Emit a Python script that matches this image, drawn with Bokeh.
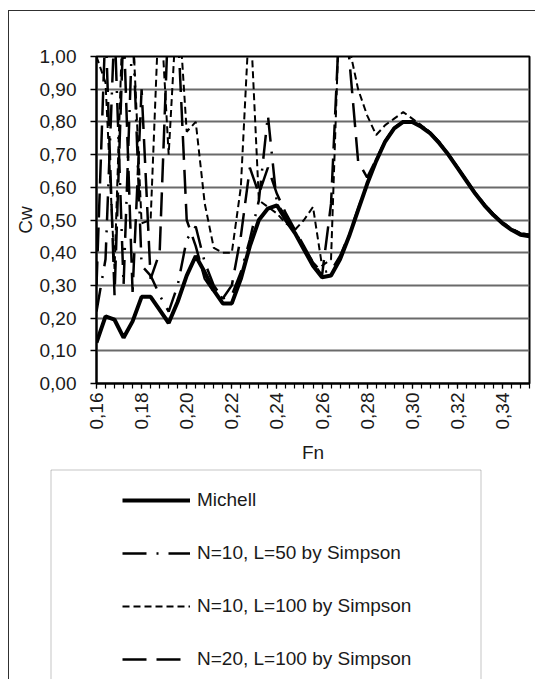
import math
from bokeh.plotting import figure
from bokeh.models import (Range1d, FixedTicker, CustomJSTickFormatter, Legend,
                          LegendItem, BoxAnnotation)
from bokeh.embed import file_html
from bokeh.resources import INLINE

# ---------------- data ----------------
fn = [0.160, 0.164, 0.168, 0.172, 0.176, 0.180, 0.184, 0.188, 0.192, 0.196,
      0.200, 0.204, 0.208, 0.212, 0.216, 0.220, 0.224, 0.228, 0.232, 0.236,
      0.240, 0.244, 0.248, 0.252, 0.256, 0.260, 0.264, 0.268, 0.272, 0.276,
      0.280, 0.284, 0.288, 0.292, 0.296, 0.300, 0.304, 0.308, 0.312, 0.316,
      0.320, 0.324, 0.328, 0.332, 0.336, 0.340, 0.344, 0.348, 0.352]

michell = [0.125, 0.205, 0.195, 0.140, 0.190, 0.265, 0.265, 0.225, 0.185, 0.250,
           0.330, 0.390, 0.340, 0.285, 0.245, 0.245, 0.320, 0.420, 0.500, 0.535,
           0.545, 0.500, 0.460, 0.410, 0.360, 0.325, 0.330, 0.380, 0.450, 0.530,
           0.610, 0.680, 0.740, 0.780, 0.800, 0.800, 0.785, 0.765, 0.735, 0.700,
           0.660, 0.620, 0.580, 0.545, 0.515, 0.490, 0.470, 0.455, 0.450]

n10_l50 = [0.220, 0.380, 1.100, 0.300, 1.100, 0.360, 0.330, 0.270, 0.220, 0.300,
           0.440, 0.480, 0.370, 0.300, 0.260, 0.270, 0.340, 0.440, 0.560, 0.820,
           0.550, 0.510, 0.465, 0.415, 0.370, 0.340, 0.345, 0.390, 0.455, 0.535,
           0.612, 0.682, 0.742, 0.782, 0.802, 0.802, 0.788, 0.767, 0.738, 0.702,
           0.662, 0.622, 0.582, 0.548, 0.518, 0.493, 0.473, 0.459, 0.455]

n10_l100 = [1.000, 0.920, 0.350, 1.200, 1.100, 0.490, 0.500, 1.200, 0.700, 1.200,
            0.770, 0.800, 0.550, 0.415, 0.400, 0.400, 0.600, 1.150, 0.560, 0.540,
            0.520, 0.490, 0.470, 0.500, 0.540, 0.360, 0.380, 1.200, 1.030, 0.900,
            0.820, 0.760, 0.790, 0.810, 0.830, 0.810, 0.790, 0.768, 0.738, 0.703,
            0.663, 0.623, 0.584, 0.549, 0.519, 0.494, 0.474, 0.460, 0.456]

n20_l100 = [0.300, 1.100, 0.270, 1.100, 0.280, 0.900, 0.320, 0.400, 1.150, 1.100,
            0.500, 0.420, 0.320, 0.280, 0.260, 0.300, 0.450, 0.660, 0.580, 0.660,
            0.580, 0.520, 0.470, 0.420, 0.370, 0.330, 0.550, 1.150, 1.000, 0.680,
            0.630, 0.685, 0.742, 0.781, 0.801, 0.801, 0.787, 0.766, 0.737, 0.701,
            0.661, 0.621, 0.581, 0.547, 0.517, 0.492, 0.472, 0.457, 0.453]

x_label_ticks = [0.16, 0.18, 0.20, 0.22, 0.24, 0.26, 0.28, 0.30, 0.32, 0.34]
y_ticks = [0.0, 0.1, 0.2, 0.3, 0.4, 0.5, 0.6, 0.7, 0.8, 0.9, 1.0]

labels = ["Michell", "N=10, L=50 by Simpson", "N=10, L=100 by Simpson",
          "N=20, L=100 by Simpson"]

# ---------------- styles ----------------
FONT = "Liberation Sans"
TXT = "#1a1a1a"
FS = "19px"
FRAME = "1px solid #303030"

styles_series = [
    dict(line_color="black", line_width=4),
    dict(line_color="black", line_width=2.5, line_dash="24 10 2 10"),
    dict(line_color="black", line_width=2, line_dash="7 4"),
    dict(line_color="black", line_width=2.5, line_dash="24 10"),
]
series = [michell, n10_l50, n10_l100, n20_l100]

# ---------------- chart figure ----------------
p = figure(width=527, height=457, output_backend="svg", toolbar_location=None,
           x_range=Range1d(0.16, 0.352), y_range=Range1d(0, 1),
           min_border_left=87, min_border_right=7, min_border_top=45,
           min_border_bottom=85,
           styles={"margin-left": "8px", "margin-top": "10px",
                   "border-left": FRAME, "border-top": FRAME})
p.background_fill_color = "white"
p.border_fill_color = "white"
p.outline_line_color = "black"
p.outline_line_width = 2

fmt = CustomJSTickFormatter(code="return tick.toFixed(2).replace('.', ',');")

yt = FixedTicker(ticks=y_ticks)
p.yaxis.ticker = yt
p.yaxis.formatter = fmt
p.yaxis.major_tick_in = 0
p.yaxis.major_tick_out = 6
p.yaxis.minor_tick_out = 0
p.yaxis.minor_tick_in = 0
p.yaxis.axis_line_width = 2
p.yaxis.major_tick_line_width = 1.5
p.yaxis.major_label_standoff = 14
p.yaxis.major_label_text_font = FONT
p.yaxis.major_label_text_font_size = FS
p.yaxis.major_label_text_color = TXT
p.yaxis.axis_label = "Cw"
p.yaxis.axis_label_text_font = FONT
p.yaxis.axis_label_text_font_size = FS
p.yaxis.axis_label_text_font_style = "normal"
p.yaxis.axis_label_text_color = TXT
p.yaxis.axis_label_standoff = 1

xt = FixedTicker(ticks=x_label_ticks, minor_ticks=fn)
p.xaxis.ticker = xt
p.xaxis.formatter = fmt
p.xaxis.major_tick_in = 0
p.xaxis.major_tick_out = 5
p.xaxis.minor_tick_in = 0
p.xaxis.minor_tick_out = 5
p.xaxis.axis_line_width = 2
p.xaxis.major_tick_line_width = 1.2
p.xaxis.minor_tick_line_width = 1.2
p.xaxis.major_label_orientation = math.pi / 2
p.xaxis.major_label_standoff = 4
p.xaxis.major_label_text_font = FONT
p.xaxis.major_label_text_font_size = FS
p.xaxis.major_label_text_color = TXT
p.xaxis.axis_label = "Fn"
p.xaxis.axis_label_text_font = FONT
p.xaxis.axis_label_text_font_size = FS
p.xaxis.axis_label_text_font_style = "normal"
p.xaxis.axis_label_text_color = TXT
p.xaxis.axis_label_standoff = 10

p.xgrid.visible = False
p.ygrid.ticker = yt
p.ygrid.grid_line_color = "#6a6a6a"
p.ygrid.grid_line_width = 1.8

for ys, st in zip(series, styles_series):
    p.line(fn, ys, **st)

# ---------------- legend figure (separate root, full-canvas frame) ----------------
QW, QH = 527, 212
q = figure(width=QW, height=QH, output_backend="svg", toolbar_location=None,
           x_range=Range1d(0, QW), y_range=Range1d(QH, 0),
           x_axis_location=None, y_axis_location=None,
           min_border=0, min_border_left=0, min_border_right=0,
           min_border_top=0, min_border_bottom=0,
           styles={"margin-left": "8px", "border-left": FRAME})
q.grid.visible = False
q.outline_line_color = None
q.background_fill_color = "white"
q.border_fill_color = "white"

q.add_layout(BoxAnnotation(left=41.5, right=471.5, top=2.5, bottom=400,
                           fill_color=None, line_color="#404040", line_width=1))

# the series are re-drawn here on an off-screen range only to feed the legend
q.extra_x_ranges = {"off": Range1d(10, 11)}
legend_renderers = [q.line(fn, ys, x_range_name="off", **st)
                    for ys, st in zip(series, styles_series)]
legend = Legend(items=[LegendItem(label=lab, renderers=[r])
                       for lab, r in zip(labels, legend_renderers)],
                location=(113, 9), border_line_alpha=0,
                background_fill_alpha=0, padding=0, margin=0, spacing=31,
                label_height=22, glyph_height=22, glyph_width=68,
                label_standoff=7, label_text_font=FONT,
                label_text_font_size=FS, label_text_color=TXT)
q.add_layout(legend)

open("out.html", "w").write(file_html([p, q], INLINE))
